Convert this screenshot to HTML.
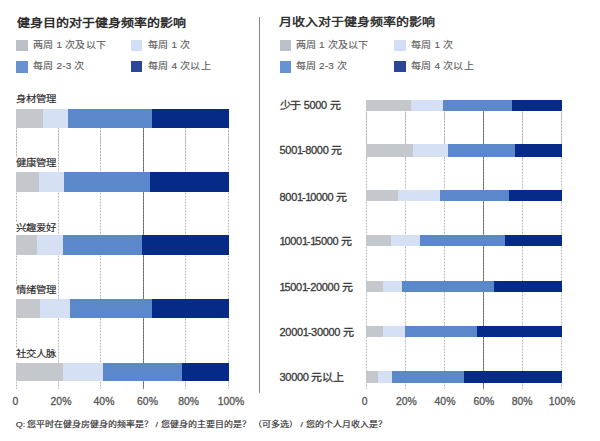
<!DOCTYPE html>
<html lang="zh-CN"><head><meta charset="utf-8">
<style>
html,body{margin:0;padding:0;background:#fff;}
body{width:600px;height:441px;position:relative;overflow:hidden;font-family:"Liberation Sans",sans-serif;}
.t{position:absolute;white-space:nowrap;line-height:1;transform-origin:0 50%;}
.title{font-size:13px;font-weight:bold;color:#2e2e2e;transform:scaleY(0.9);}
.rtitle{font-size:13px;font-weight:bold;color:#333;transform:scaleY(0.86);}
.lg{font-size:10px;color:#5e5e5e;letter-spacing:0.2px;-webkit-text-stroke:0.15px #5e5e5e;transform:scaleY(0.9);}
.labbox{position:absolute;background:#fff;}
.lab{font-size:10.4px;color:#2e2e2e;-webkit-text-stroke:0.2px #2e2e2e;transform:scaleY(0.92);}
.rlab{font-size:11px;letter-spacing:-0.3px;color:#383838;-webkit-text-stroke:0.3px #383838;transform:scaleY(0.97);}
.rlab .c{-webkit-text-stroke:0.35px #383838;}
.rlab .o{letter-spacing:-1.2px;}
.tick{font-size:10.4px;color:#555;-webkit-text-stroke:0.3px #555;transform-origin:50% 50%;transform:scaleY(1.0);}
.foot{font-size:9px;color:#333;-webkit-text-stroke:0.2px #333;transform:scaleY(0.9);}
.g{position:absolute;width:1px;background:repeating-linear-gradient(to bottom,#b4b4b4 0,#b4b4b4 1.5px,#e4e4e4 1.5px,#e4e4e4 3px);}
.gs{position:absolute;width:1px;background:repeating-linear-gradient(to bottom,#6e6e6e 0,#6e6e6e 2px,#8c8c8c 2px,#8c8c8c 3px);}
</style></head><body>

<div class="t title" style="left:17px;top:16.10px;">健身目的对于健身频率的影响</div>
<div class="t rtitle" style="left:279px;top:16.00px;">月收入对于健身频率的影响</div>
<div style="position:absolute;left:16px;top:39.50px;width:11.50px;height:11.30px;background:#bcc1c7;"></div>
<div style="position:absolute;left:130.5px;top:39.80px;width:11.50px;height:11.00px;background:#d0dff5;"></div>
<div style="position:absolute;left:16px;top:61.00px;width:11.50px;height:11.50px;background:#6792d2;"></div>
<div style="position:absolute;left:130.5px;top:61.00px;width:11.50px;height:11.30px;background:#2a4699;"></div>
<div class="t lg" style="left:33px;top:40.00px;">两周 1 次及以下</div>
<div class="t lg" style="left:148px;top:40.00px;">每周 1 次</div>
<div class="t lg" style="left:33px;top:61.40px;">每周 2-3 次</div>
<div class="t lg" style="left:148px;top:61.40px;">每周 4 次以上</div>
<div style="position:absolute;left:279.5px;top:39.50px;width:11.50px;height:11.30px;background:#bcc1c7;"></div>
<div style="position:absolute;left:394px;top:39.80px;width:11.50px;height:11.00px;background:#d0dff5;"></div>
<div style="position:absolute;left:279.5px;top:61.00px;width:11.50px;height:11.50px;background:#6792d2;"></div>
<div style="position:absolute;left:394px;top:61.00px;width:11.50px;height:11.30px;background:#2a4699;"></div>
<div class="t lg" style="left:295.5px;top:40.00px;">两周 1 次及以下</div>
<div class="t lg" style="left:411px;top:40.00px;">每周 1 次</div>
<div class="t lg" style="left:295.5px;top:61.40px;">每周 2-3 次</div>
<div class="t lg" style="left:411px;top:61.40px;">每周 4 次以上</div>
<div style="position:absolute;left:259px;top:16.70px;width:1.00px;height:376.30px;background:#8a8a8a;"></div>
<div class="g" style="left:16px;top:109px;height:280px;"></div>
<div class="g" style="left:58px;top:109px;height:280px;"></div>
<div class="g" style="left:100px;top:109px;height:280px;"></div>
<div class="gs" style="left:143px;top:109px;height:280px;"></div>
<div class="g" style="left:185px;top:109px;height:280px;"></div>
<div class="g" style="left:228px;top:109px;height:280px;"></div>
<div class="g" style="left:366px;top:100px;height:289px;"></div>
<div class="g" style="left:405px;top:100px;height:289px;"></div>
<div class="g" style="left:444px;top:100px;height:289px;"></div>
<div class="gs" style="left:483px;top:100px;height:289px;"></div>
<div class="g" style="left:522px;top:100px;height:289px;"></div>
<div class="g" style="left:561px;top:100px;height:289px;"></div>
<div style="position:absolute;left:16px;top:108.80px;width:26.50px;height:19.10px;background:#c4c8cd;"></div>
<div style="position:absolute;left:42.5px;top:108.80px;width:25.50px;height:19.10px;background:#d5e0f4;"></div>
<div style="position:absolute;left:68px;top:108.80px;width:84.00px;height:19.10px;background:#5a88cb;"></div>
<div style="position:absolute;left:152px;top:108.80px;width:77.00px;height:19.10px;background:#052a87;"></div>
<div style="position:absolute;left:16px;top:93.40px;width:41.50px;height:15.40px;background:#fff;"></div>
<div class="t lab" style="left:16px;top:94.20px;">身材管理</div>
<div style="position:absolute;left:16px;top:172.00px;width:23.00px;height:19.70px;background:#c4c8cd;"></div>
<div style="position:absolute;left:39px;top:172.00px;width:24.70px;height:19.70px;background:#d5e0f4;"></div>
<div style="position:absolute;left:63.7px;top:172.00px;width:86.30px;height:19.70px;background:#5a88cb;"></div>
<div style="position:absolute;left:150px;top:172.00px;width:79.00px;height:19.70px;background:#052a87;"></div>
<div style="position:absolute;left:16px;top:156.70px;width:41.50px;height:15.30px;background:#fff;"></div>
<div class="t lab" style="left:16px;top:157.50px;">健康管理</div>
<div style="position:absolute;left:16px;top:235.00px;width:20.50px;height:19.50px;background:#c4c8cd;"></div>
<div style="position:absolute;left:36.5px;top:235.00px;width:26.50px;height:19.50px;background:#d5e0f4;"></div>
<div style="position:absolute;left:63px;top:235.00px;width:79.00px;height:19.50px;background:#5a88cb;"></div>
<div style="position:absolute;left:142px;top:235.00px;width:87.00px;height:19.50px;background:#052a87;"></div>
<div style="position:absolute;left:16px;top:221.70px;width:41.50px;height:13.30px;background:#fff;"></div>
<div class="t lab" style="left:16px;top:222.50px;">兴趣爱好</div>
<div style="position:absolute;left:16px;top:298.90px;width:23.50px;height:19.20px;background:#c4c8cd;"></div>
<div style="position:absolute;left:39.5px;top:298.90px;width:30.50px;height:19.20px;background:#d5e0f4;"></div>
<div style="position:absolute;left:70px;top:298.90px;width:81.60px;height:19.20px;background:#5a88cb;"></div>
<div style="position:absolute;left:151.6px;top:298.90px;width:77.40px;height:19.20px;background:#052a87;"></div>
<div style="position:absolute;left:16px;top:284.30px;width:41.50px;height:14.60px;background:#fff;"></div>
<div class="t lab" style="left:16px;top:285.10px;">情绪管理</div>
<div style="position:absolute;left:16px;top:362.50px;width:46.50px;height:18.20px;background:#c4c8cd;"></div>
<div style="position:absolute;left:62.5px;top:362.50px;width:40.00px;height:18.20px;background:#d5e0f4;"></div>
<div style="position:absolute;left:102.5px;top:362.50px;width:79.50px;height:18.20px;background:#5a88cb;"></div>
<div style="position:absolute;left:182px;top:362.50px;width:47.00px;height:18.20px;background:#052a87;"></div>
<div style="position:absolute;left:16px;top:347.70px;width:41.50px;height:14.80px;background:#fff;"></div>
<div class="t lab" style="left:16px;top:348.50px;">社交人脉</div>
<div style="position:absolute;left:366px;top:99.80px;width:44.50px;height:11.20px;background:#c4c8cd;"></div>
<div style="position:absolute;left:410.5px;top:99.80px;width:32.50px;height:11.20px;background:#d5e0f4;"></div>
<div style="position:absolute;left:443px;top:99.80px;width:68.50px;height:11.20px;background:#5a88cb;"></div>
<div style="position:absolute;left:511.5px;top:99.80px;width:50.50px;height:11.20px;background:#052a87;"></div>
<div class="t rlab" style="left:279.5px;top:99.90px;"><span class="c">少</span><span class="c">于</span> 5000 <span class="c">元</span></div>
<div style="position:absolute;left:366px;top:144.20px;width:47.00px;height:12.40px;background:#c4c8cd;"></div>
<div style="position:absolute;left:413px;top:144.20px;width:35.40px;height:12.40px;background:#d5e0f4;"></div>
<div style="position:absolute;left:448.4px;top:144.20px;width:66.80px;height:12.40px;background:#5a88cb;"></div>
<div style="position:absolute;left:515.2px;top:144.20px;width:46.80px;height:12.40px;background:#052a87;"></div>
<div class="t rlab" style="left:279.5px;top:145.40px;">500<span class="o">1</span>-8000 <span class="c">元</span></div>
<div style="position:absolute;left:366px;top:190.40px;width:31.50px;height:11.10px;background:#c4c8cd;"></div>
<div style="position:absolute;left:397.5px;top:190.40px;width:42.50px;height:11.10px;background:#d5e0f4;"></div>
<div style="position:absolute;left:440px;top:190.40px;width:68.80px;height:11.10px;background:#5a88cb;"></div>
<div style="position:absolute;left:508.8px;top:190.40px;width:53.20px;height:11.10px;background:#052a87;"></div>
<div class="t rlab" style="left:279.5px;top:191.50px;">800<span class="o">1</span>-<span class="o">1</span>0000 <span class="c">元</span></div>
<div style="position:absolute;left:366px;top:235.40px;width:24.60px;height:11.10px;background:#c4c8cd;"></div>
<div style="position:absolute;left:390.6px;top:235.40px;width:29.40px;height:11.10px;background:#d5e0f4;"></div>
<div style="position:absolute;left:420px;top:235.40px;width:85.20px;height:11.10px;background:#5a88cb;"></div>
<div style="position:absolute;left:505.2px;top:235.40px;width:56.80px;height:11.10px;background:#052a87;"></div>
<div class="t rlab" style="left:279.5px;top:236.10px;"><span class="o">1</span>000<span class="o">1</span>-<span class="o">1</span>5000 <span class="c">元</span></div>
<div style="position:absolute;left:366px;top:281.00px;width:17.40px;height:11.00px;background:#c4c8cd;"></div>
<div style="position:absolute;left:383.4px;top:281.00px;width:18.60px;height:11.00px;background:#d5e0f4;"></div>
<div style="position:absolute;left:402px;top:281.00px;width:91.50px;height:11.00px;background:#5a88cb;"></div>
<div style="position:absolute;left:493.5px;top:281.00px;width:68.50px;height:11.00px;background:#052a87;"></div>
<div class="t rlab" style="left:279.5px;top:281.90px;"><span class="o">1</span>500<span class="o">1</span>-20000 <span class="c">元</span></div>
<div style="position:absolute;left:366px;top:326.00px;width:17.00px;height:11.00px;background:#c4c8cd;"></div>
<div style="position:absolute;left:383px;top:326.00px;width:22.30px;height:11.00px;background:#d5e0f4;"></div>
<div style="position:absolute;left:405.3px;top:326.00px;width:71.70px;height:11.00px;background:#5a88cb;"></div>
<div style="position:absolute;left:477px;top:326.00px;width:85.00px;height:11.00px;background:#052a87;"></div>
<div class="t rlab" style="left:279.5px;top:326.70px;">2000<span class="o">1</span>-30000 <span class="c">元</span></div>
<div style="position:absolute;left:366px;top:370.50px;width:12.00px;height:12.20px;background:#c4c8cd;"></div>
<div style="position:absolute;left:378px;top:370.50px;width:13.80px;height:12.20px;background:#d5e0f4;"></div>
<div style="position:absolute;left:391.8px;top:370.50px;width:72.00px;height:12.20px;background:#5a88cb;"></div>
<div style="position:absolute;left:463.8px;top:370.50px;width:98.20px;height:12.20px;background:#052a87;"></div>
<div class="t rlab" style="left:279.5px;top:372.40px;">30000 <span class="c">元</span><span class="c">以</span><span class="c">上</span></div>
<div class="t tick" style="left:-14.50px;width:60px;text-align:center;top:396.80px;">0</div>
<div class="t tick" style="left:31.00px;width:60px;text-align:center;top:396.80px;">20%</div>
<div class="t tick" style="left:74.00px;width:60px;text-align:center;top:396.80px;">40%</div>
<div class="t tick" style="left:117.50px;width:60px;text-align:center;top:396.80px;">60%</div>
<div class="t tick" style="left:158.60px;width:60px;text-align:center;top:396.80px;">80%</div>
<div class="t tick" style="left:201.00px;width:60px;text-align:center;top:396.80px;">100%</div>
<div class="t tick" style="left:334.60px;width:60px;text-align:center;top:396.80px;">0</div>
<div class="t tick" style="left:376.30px;width:60px;text-align:center;top:396.80px;">20%</div>
<div class="t tick" style="left:415.00px;width:60px;text-align:center;top:396.80px;">40%</div>
<div class="t tick" style="left:453.80px;width:60px;text-align:center;top:396.80px;">60%</div>
<div class="t tick" style="left:492.10px;width:60px;text-align:center;top:396.80px;">80%</div>
<div class="t tick" style="left:532.00px;width:60px;text-align:center;top:396.80px;">100%</div>
<div class="t foot" style="left:15.8px;top:420.00px;">Q:&thinsp;您平时在健身房健身的频率是？ / 您健身的主要目的是？ （可多选） / 您的个人月收入是？</div>
</body></html>
